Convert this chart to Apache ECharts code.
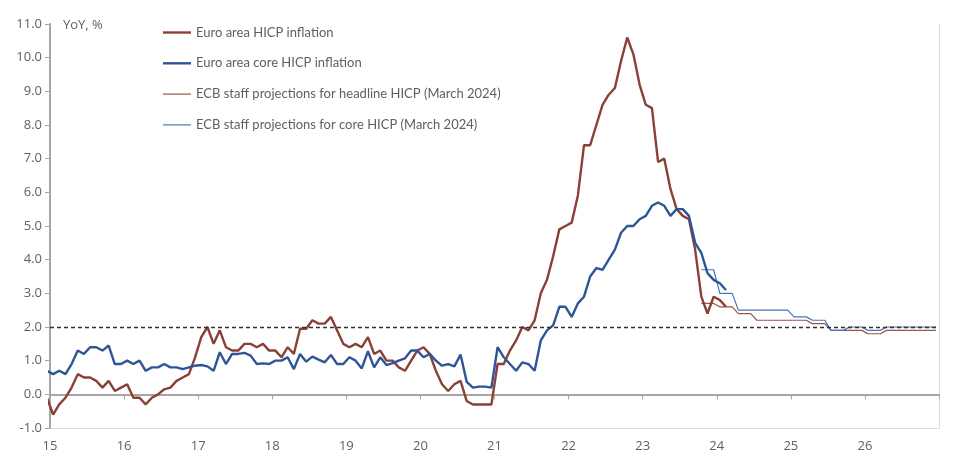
<!DOCTYPE html>
<html>
<head>
<meta charset="utf-8">
<script src="https://cdn.jsdelivr.net/npm/echarts@6/dist/echarts.min.js"></script>
<style>
html, body { margin: 0; padding: 0; background: #fff; }
#main { width: 955px; height: 466px; }
</style>
</head>
<body>
<div id="main"></div>
<script>
// monthly data, first value = Dec 2014, then Jan 2015 .. Feb 2024
var headline = [
    -0.1,
    -0.6, -0.3, -0.1, 0.2, 0.6, 0.5, 0.5, 0.4, 0.2, 0.4, 0.1, 0.2,
    0.3, -0.1, -0.1, -0.3, -0.1, 0.0, 0.15, 0.2, 0.4, 0.5, 0.6, 1.1,
    1.7, 2.0, 1.5, 1.9, 1.4, 1.3, 1.3, 1.5, 1.5, 1.4, 1.5, 1.3,
    1.3, 1.1, 1.4, 1.2, 1.95, 1.95, 2.2, 2.1, 2.1, 2.3, 1.9, 1.5,
    1.4, 1.5, 1.4, 1.7, 1.2, 1.3, 1.0, 1.0, 0.8, 0.7, 1.0, 1.3,
    1.4, 1.2, 0.7, 0.3, 0.1, 0.3, 0.4, -0.2, -0.3, -0.3, -0.3, -0.3,
    0.9, 0.9, 1.3, 1.6, 2.0, 1.9, 2.2, 3.0, 3.4, 4.1, 4.9, 5.0,
    5.1, 5.9, 7.4, 7.4, 8.0, 8.6, 8.9, 9.1, 9.9, 10.6, 10.1, 9.2,
    8.6, 8.5, 6.9, 7.0, 6.1, 5.5, 5.3, 5.2, 4.3, 2.9, 2.4, 2.9,
    2.8, 2.6
];
var core = [
    0.7,
    0.6, 0.7, 0.6, 0.9, 1.3, 1.2, 1.4, 1.4, 1.3, 1.45, 0.9, 0.9,
    1.0, 0.9, 1.0, 0.7, 0.8, 0.8, 0.9, 0.8, 0.8, 0.75, 0.8, 0.85,
    0.87, 0.83, 0.7, 1.25, 0.9, 1.2, 1.2, 1.23, 1.15, 0.9, 0.92, 0.9,
    1.0, 1.0, 1.1, 0.75, 1.2, 0.97, 1.12, 1.03, 0.95, 1.17, 0.9, 0.9,
    1.1, 1.0, 0.77, 1.28, 0.8, 1.1, 0.87, 0.93, 1.0, 1.07, 1.3, 1.3,
    1.1, 1.2, 1.0, 0.85, 0.9, 0.83, 1.18, 0.37, 0.2, 0.23, 0.23, 0.2,
    1.4, 1.1, 0.9, 0.7, 0.95, 0.9, 0.7, 1.6, 1.9, 2.05, 2.6, 2.6,
    2.3, 2.7, 2.9, 3.5, 3.75, 3.7, 4.0, 4.3, 4.8, 5.0, 5.0, 5.2,
    5.3, 5.6, 5.7, 5.6, 5.3, 5.5, 5.5, 5.3, 4.5, 4.2, 3.6, 3.4,
    3.3, 3.1
];
// March 2024 projections, monthly, Oct 2023 .. Dec 2026
var projHeadline = [
    2.7, 2.7, 2.7,
    2.6, 2.6, 2.6, 2.4, 2.4, 2.4, 2.2, 2.2, 2.2, 2.2, 2.2, 2.2,
    2.2, 2.2, 2.2, 2.1, 2.1, 2.1, 1.9, 1.9, 1.9, 1.9, 1.9, 1.9,
    1.8, 1.8, 1.8, 1.9, 1.9, 1.9, 1.9, 1.9, 1.9, 1.9, 1.9, 1.9
];
var projCore = [
    3.7, 3.7, 3.7,
    3.0, 3.0, 3.0, 2.5, 2.5, 2.5, 2.5, 2.5, 2.5, 2.5, 2.5, 2.5,
    2.3, 2.3, 2.3, 2.2, 2.2, 2.2, 1.9, 1.9, 1.9, 2.0, 2.0, 2.0,
    1.9, 1.9, 1.9, 2.0, 2.0, 2.0, 2.0, 2.0, 2.0, 2.0, 2.0, 2.0
];
var names = [
    'Euro area HICP inflation',
    'Euro area core HICP inflation',
    'ECB staff projections for headline HICP (March 2024)',
    'ECB staff projections for core HICP (March 2024)'
];
var target = 2.0;

// month index -> position on the year axis (middle of the month)
function toPairs(values, startYear, startMonth) {
    return values.map(function (v, k) {
        var m = startMonth + k;
        return [startYear + (m + 0.5) / 12, v];
    });
}

var txt = '#5f5f5f';
var axisFont = 'Open Sans';
var thickIcon = 'path://M0,0H28V2.4H0Z';
var thinIcon = 'path://M0,0H28V1.2H0Z';

var myChart = echarts.init(document.getElementById('main'));
var option = {
    animation: false,
    backgroundColor: '#fff',
    title: {
        text: 'YoY, %',
        left: 63,
        top: 19,
        padding: 0,
        textStyle: { color: txt, fontSize: 13, fontWeight: 'normal', fontFamily: axisFont }
    },
    legend: {
        orient: 'vertical',
        left: 163,
        top: 26,
        padding: 0,
        itemWidth: 28,
        itemHeight: 14,
        itemGap: 17.8,
        data: [
            { name: names[0], icon: thickIcon },
            { name: names[1], icon: thickIcon },
            { name: names[2], icon: thinIcon },
            { name: names[3], icon: thinIcon }
        ],
        textStyle: { color: txt, fontSize: 13, fontFamily: 'Lato' }
    },
    grid: { left: 50, right: 16, top: 24, bottom: 38 },
    xAxis: [{
        type: 'value',
        min: 2015,
        max: 2027,
        interval: 1,
        position: 'bottom',
        axisLine: { onZero: true, lineStyle: { color: '#a6a6a6', width: 2 } },
        axisTick: { show: true, length: 5, lineStyle: { color: '#a6a6a6' } },
        axisLabel: { show: false },
        splitLine: { show: false }
    }, {
        type: 'value',
        min: 2015,
        max: 2027,
        interval: 1,
        position: 'bottom',
        axisLine: { show: true, onZero: false, lineStyle: { color: '#dcdcdc', width: 1 } },
        axisTick: { show: false },
        axisLabel: {
            color: txt,
            fontSize: 13,
            fontFamily: axisFont,
            margin: 12,
            formatter: function (v) { return v >= 2027 ? '' : String(v).slice(2); }
        },
        splitLine: { show: false }
    }],
    yAxis: [{
        type: 'value',
        min: -1,
        max: 11,
        interval: 1,
        axisLine: { show: true, lineStyle: { color: '#a6a6a6', width: 2 } },
        axisTick: { show: true, length: 5, lineStyle: { color: '#a6a6a6' } },
        axisLabel: {
            color: txt,
            fontSize: 13,
            fontFamily: axisFont,
            margin: 8,
            formatter: function (v) { return v.toFixed(1); }
        },
        splitLine: { show: false }
    }, {
        type: 'value',
        min: -1,
        max: 11,
        interval: 1,
        position: 'right',
        axisLine: { show: true, lineStyle: { color: '#dcdcdc', width: 1 } },
        axisTick: { show: false },
        axisLabel: { show: false },
        splitLine: { show: false }
    }],
    series: [{
        name: names[0],
        type: 'line',
        symbol: 'none',
        z: 4,
        data: toPairs(headline, 2014, 11),
        lineStyle: { color: '#8a4036', width: 2.4 },
        itemStyle: { color: '#8a4036' },
        markLine: {
            silent: true,
            symbol: 'none',
            label: { show: false },
            lineStyle: { color: '#333', width: 1.3, type: [4, 3] },
            data: [{ yAxis: target }]
        }
    }, {
        name: names[1],
        type: 'line',
        symbol: 'none',
        z: 4,
        data: toPairs(core, 2014, 11),
        lineStyle: { color: '#2f5597', width: 2.4 },
        itemStyle: { color: '#2f5597' }
    }, {
        name: names[2],
        type: 'line',
        symbol: 'none',
        z: 3,
        data: toPairs(projHeadline, 2023, 9),
        lineStyle: { color: '#94564c', width: 1.2 },
        itemStyle: { color: '#94564c' }
    }, {
        name: names[3],
        type: 'line',
        symbol: 'none',
        z: 3,
        data: toPairs(projCore, 2023, 9),
        lineStyle: { color: '#4a74bb', width: 1.2 },
        itemStyle: { color: '#4a74bb' }
    }]
};
myChart.setOption(option);
</script>
</body>
</html>
